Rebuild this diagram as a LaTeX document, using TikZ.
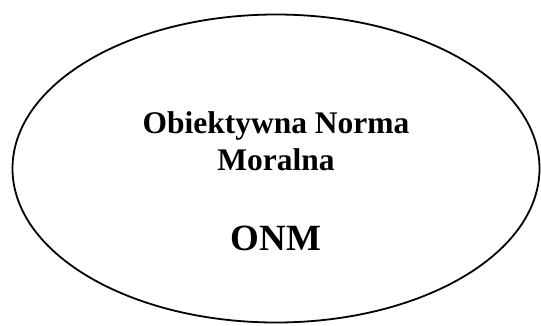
\documentclass[tikz,border=0pt]{standalone}
\usepackage{fontspec}
\setmainfont{Liberation Serif}
\usetikzlibrary{shapes.geometric}

\begin{document}
\begin{tikzpicture}[
    x=1pt, y=1pt,
    oval/.style={
        draw=black, ellipse, line width=1.8pt,
        minimum width=527pt, minimum height=308pt, inner sep=0pt
    },
    title/.style={
        font=\bfseries\fontsize{31.5}{37}\selectfont, align=center, inner sep=0pt
    },
    abbr/.style={
        font=\bfseries\fontsize{37}{40}\selectfont, inner sep=0pt
    },
]
\useasboundingbox (0,0) rectangle (541,325);
% ---------- outer ellipse ----------
\node[oval] (onm) at (276, 156.5) {};
% ---------- labels ----------
\node[title, anchor=base] (name1) at (276, 192) {Obiektywna Norma};
\node[title, anchor=base] (name2) at (276, 155) {Moralna};
\node[abbr, anchor=base]  (short) at (276, 75)  {ONM};
\end{tikzpicture}
\end{document}
